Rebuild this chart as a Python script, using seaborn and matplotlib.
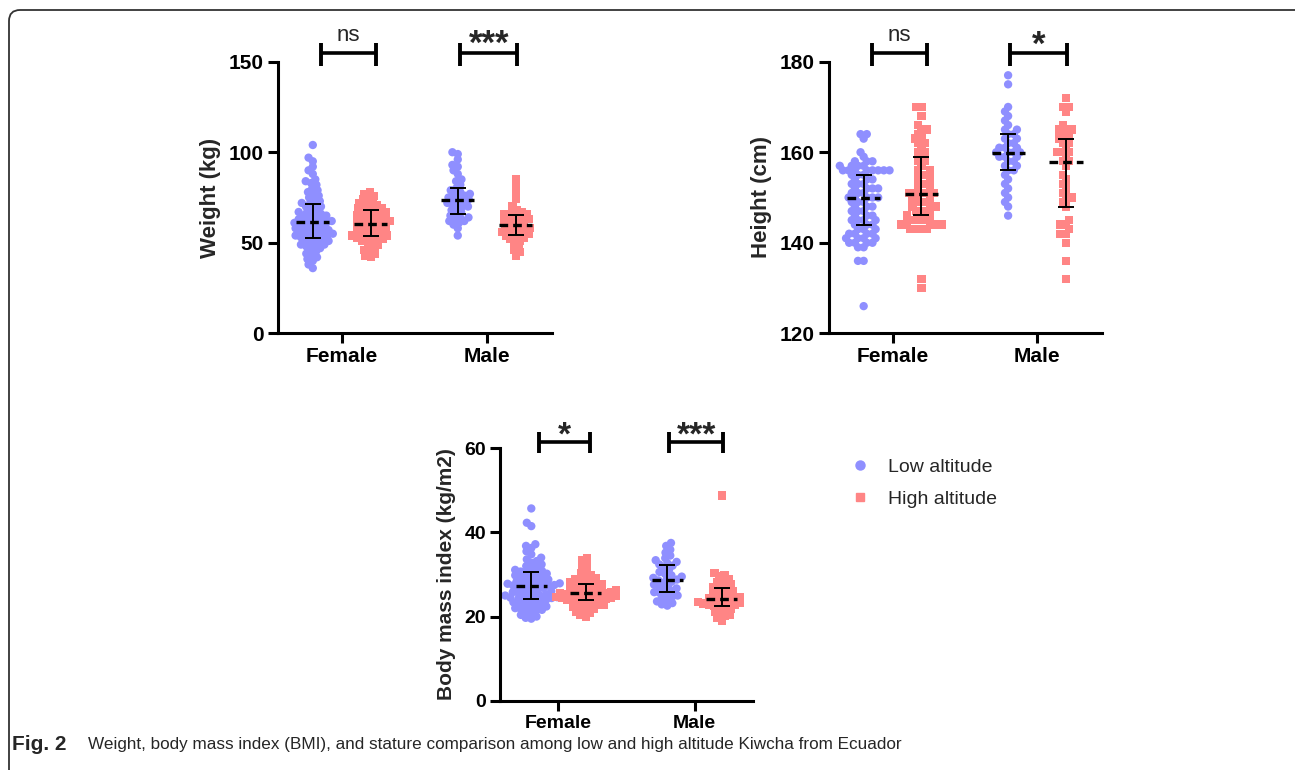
import numpy as np
import pandas as pd
import matplotlib
matplotlib.use("Agg")
import matplotlib.pyplot as plt
import seaborn as sns
from matplotlib.lines import Line2D
from matplotlib.patches import FancyBboxPatch
from matplotlib.transforms import IdentityTransform

# ---------------- data ----------------
sexes = ["Female", "Male"]
altitudes = ["Low altitude", "High altitude"]

weight_female_low = [104, 97, 95, 92, 90, 88, 85, 84, 83, 82, 80, 79, 78, 77, 76, 75, 74, 73, 72, 72,
                     71, 70, 70, 69, 68, 67, 67, 66, 66, 65, 65, 64, 64, 63, 63, 62, 62, 62, 61, 61,
                     61, 60, 60, 59, 59, 58, 58, 57, 57, 57, 56, 56, 55, 55, 55, 54, 54, 54, 53, 53,
                     52, 52, 51, 51, 50, 50, 49, 49, 48, 48, 47, 46, 45, 44, 43, 42, 41, 40, 38, 36]
weight_female_high = [78, 77, 76, 75, 74, 73, 72, 72, 71, 70, 70, 69, 69, 68, 68,
                      67, 67, 66, 66, 65, 65, 64, 64, 63, 63, 62, 62, 61, 61, 61,
                      60, 60, 59, 59, 58, 58, 57, 57, 56, 56, 55, 55, 54, 54, 54,
                      53, 53, 52, 52, 51, 51, 50, 49, 48, 47, 46, 45, 44, 43, 42]
weight_male_low = [100, 99, 96, 93, 92, 90, 88, 85, 84, 82,
                   80, 79, 78, 77, 77, 76, 75, 75, 74, 74,
                   73, 72, 72, 71, 70, 70, 69, 68, 67, 66,
                   65, 64, 64, 63, 62, 62, 61, 60, 58, 54]
weight_male_high = [85, 80, 77, 74, 70, 68, 67, 66, 66, 66,
                    65, 64, 64, 63, 63, 62, 62, 61, 61, 60,
                    59, 59, 58, 58, 57, 57, 56, 55, 55, 55,
                    54, 53, 53, 52, 51, 50, 48, 46, 45, 43]

height_female_low = [164, 164, 163, 160, 159, 158, 158, 158, 157, 157, 157, 157, 156, 156, 156, 156, 156, 156, 156, 156,
                     155, 155, 155, 154, 154, 154, 153, 153, 153, 152, 152, 152, 152, 151, 151, 151, 150, 150, 150, 150,
                     150, 149, 149, 149, 148, 148, 148, 147, 147, 147, 146, 146, 146, 145, 145, 145, 145, 144, 144, 144,
                     143, 143, 143, 142, 142, 142, 142, 141, 141, 141, 141, 140, 140, 140, 140, 139, 139, 136, 136, 126]
height_female_high = [170, 170, 168, 166, 165, 165, 164, 163, 163, 162, 162, 161, 160, 160, 159,
                      158, 158, 157, 156, 156, 155, 155, 154, 154, 153, 153, 152, 152, 151, 151,
                      151, 151, 150, 150, 150, 149, 149, 148, 148, 148, 147, 147, 147, 146, 146,
                      145, 145, 145, 145, 144, 144, 144, 144, 144, 143, 143, 143, 143, 132, 130]
height_male_low = [177, 175, 170, 169, 168, 167, 166, 165, 165, 164,
                   164, 163, 163, 162, 162, 161, 161, 161, 160, 160,
                   160, 160, 159, 159, 159, 158, 158, 157, 157, 156,
                   156, 155, 154, 153, 152, 151, 150, 149, 148, 146]
height_male_high = [172, 170, 170, 169, 166, 165, 165, 165, 164, 164,
                    163, 163, 162, 162, 161, 160, 160, 160, 159, 158,
                    158, 157, 155, 154, 153, 152, 151, 150, 150, 149,
                    148, 145, 144, 144, 143, 142, 142, 140, 136, 132]

bmi_female_low = [45.7, 42.3, 41.5, 37.2, 36.8, 36.3, 35.5, 34.8, 34.0, 33.6, 33.2, 32.8, 32.4, 32.0, 31.7, 31.4, 31.1, 30.9, 30.7, 30.6,
                  30.4, 30.2, 30.0, 29.8, 29.6, 29.4, 29.2, 29.0, 28.8, 28.6, 28.4, 28.3, 28.1, 27.9, 27.8, 27.7, 27.6, 27.5, 27.4, 27.3,
                  27.2, 27.0, 26.8, 26.6, 26.4, 26.2, 26.0, 25.8, 25.6, 25.5, 25.3, 25.2, 25.0, 24.9, 24.8, 24.6, 24.5, 24.4, 24.3, 24.2,
                  24.0, 23.8, 23.6, 23.4, 23.2, 23.0, 22.8, 22.6, 22.4, 22.2, 22.0, 21.8, 21.6, 21.4, 21.2, 20.8, 20.4, 20.0, 19.7, 19.5]
bmi_female_high = [34.0, 33.3, 32.5, 31.8, 31.0, 30.4, 29.9, 29.5, 29.1, 28.8, 28.5, 28.3, 28.1, 27.9, 27.8,
                   27.6, 27.4, 27.2, 27.0, 26.8, 26.6, 26.5, 26.3, 26.2, 26.0, 25.9, 25.8, 25.7, 25.6, 25.5,
                   25.4, 25.3, 25.2, 25.0, 24.9, 24.8, 24.7, 24.6, 24.5, 24.4, 24.3, 24.2, 24.1, 24.0, 23.9,
                   23.7, 23.5, 23.3, 23.1, 22.9, 22.7, 22.5, 22.3, 22.0, 21.8, 21.5, 21.2, 20.8, 20.4, 20.0]
bmi_male_low = [37.5, 36.8, 35.9, 35.2, 34.5, 33.9, 33.4, 33.0, 32.7, 32.4,
                32.1, 31.6, 31.1, 30.6, 30.2, 29.8, 29.5, 29.2, 29.0, 28.8,
                28.6, 28.3, 28.0, 27.6, 27.3, 27.0, 26.7, 26.4, 26.1, 25.8,
                25.6, 25.3, 25.0, 24.7, 24.4, 24.0, 23.6, 23.2, 22.9, 22.6]
bmi_male_high = [48.8, 30.3, 29.9, 29.5, 29.0, 28.6, 28.2, 27.7, 27.3, 26.9,
                 26.6, 26.3, 26.0, 25.8, 25.5, 25.2, 25.0, 24.7, 24.5, 24.3,
                 24.1, 23.9, 23.7, 23.6, 23.4, 23.2, 23.1, 22.9, 22.8, 22.7,
                 22.5, 22.2, 21.9, 21.6, 21.2, 20.9, 20.5, 20.1, 19.6, 19.0]

# median and interquartile range per group: Female-low, Female-high, Male-low, Male-high
weight_median = [61.4, 60.3, 73.4, 59.8]
weight_q1 = [52.6, 53.7, 65.9, 54.2]
weight_q3 = [71.4, 68.0, 80.3, 65.3]
height_median = [149.8, 150.8, 159.9, 157.8]
height_q1 = [143.9, 146.1, 156.0, 148.0]
height_q3 = [154.9, 159.0, 164.0, 163.0]
bmi_median = [27.3, 25.5, 28.8, 24.2]
bmi_q1 = [24.2, 23.9, 25.8, 22.6]
bmi_q3 = [30.5, 27.7, 32.3, 26.7]

weight_sig = ["ns", "***"]
height_sig = ["ns", "*"]
bmi_sig = ["*", "***"]

caption_bold = "Fig. 2"
caption_text = "Weight, body mass index (BMI), and stature comparison among low and high altitude Kiwcha from Ecuador"

# ---------------- style ----------------
sns.set_style("ticks")
plt.rcParams["font.family"] = ["Liberation Sans", "DejaVu Sans"]
BLUE = "#8F8FFF"
RED = "#FF8585"
palette = {altitudes[0]: BLUE, altitudes[1]: RED}
markers = {altitudes[0]: "o", altitudes[1]: "s"}
LAYOUT_SIZE = 3.9   # marker size used to pack the swarm (points overlap, as in the original)
MARKER_SIZE = 6.0   # marker size actually drawn

W, H = 1295, 770
fig = plt.figure(figsize=(W / 100, H / 100), dpi=100)
swarm_collections = []


def make_df(fl, fh, ml, mh):
    rows = []
    for sex, alt, vals in [("Female", altitudes[0], fl), ("Female", altitudes[1], fh),
                           ("Male", altitudes[0], ml), ("Male", altitudes[1], mh)]:
        for v in vals:
            rows.append((sex, alt, v))
    return pd.DataFrame(rows, columns=["sex", "altitude", "value"])


def px_axes(left, right, top, bottom):
    return fig.add_axes([left / W, 1 - bottom / H, (right - left) / W, (bottom - top) / H])


def draw_panel(ax, df, med, q1, q3, ylim, yticks, ylabel, sig, brk, fs_tick, fs_label, xlim):
    for alt in altitudes:
        sub = df[df["altitude"] == alt]
        before = len(ax.collections)
        sns.swarmplot(data=sub, x="sex", y="value", hue="altitude", hue_order=altitudes,
                      order=sexes, dodge=True, palette=palette, marker=markers[alt],
                      size=LAYOUT_SIZE, linewidth=0, ax=ax, legend=False, zorder=2)
        swarm_collections.extend(ax.collections[before:])
    xs = np.array([-0.2, 0.2, 0.8, 1.2])
    med = np.array(med); q1 = np.array(q1); q3 = np.array(q3)
    ax.errorbar(xs, med, yerr=[med - q1, q3 - med], fmt="none", ecolor="black",
                elinewidth=1.4, capsize=6, capthick=1.4, zorder=3)
    ax.hlines(med, xs - 0.115, xs + 0.115, colors="black", linewidth=2.4,
              linestyles=(0, (2.6, 1.5)), zorder=4)
    ax.set_ylim(*ylim)
    ax.set_yticks(yticks)
    ax.set_xlim(*xlim)
    ax.set_xlabel("")
    ax.set_ylabel(ylabel, fontsize=fs_label, fontweight="bold", labelpad=6)
    for s in ["top", "right"]:
        ax.spines[s].set_visible(False)
    for s in ["left", "bottom"]:
        ax.spines[s].set_linewidth(2.2)
        ax.spines[s].set_color("black")
    ax.tick_params(axis="both", width=2.2, length=7, labelsize=fs_tick, colors="black", pad=3)
    for lab in ax.get_xticklabels() + ax.get_yticklabels():
        lab.set_fontweight("bold")
    # significance brackets
    yb, ylo, yhi, ytxt_ns, ytxt_star = brk
    for i, (x0, x1, xt) in enumerate([(-0.145, 0.235, 0.045), (0.815, 1.21, 1.015)]):
        ax.plot([x0, x1], [yb, yb], color="black", lw=2.6, clip_on=False, solid_capstyle="butt")
        ax.plot([x0, x0], [ylo, yhi], color="black", lw=2.8, clip_on=False, solid_capstyle="butt")
        ax.plot([x1, x1], [ylo, yhi], color="black", lw=2.8, clip_on=False, solid_capstyle="butt")
        s = sig[i]
        if s == "ns":
            ax.text(xt, ytxt_ns, s, ha="center", va="baseline", fontsize=fs_label, clip_on=False)
        else:
            ax.text(xt, ytxt_star, s, ha="center", va="baseline", fontsize=fs_label + 9,
                    fontweight="bold", clip_on=False)


# Weight panel
ax1 = px_axes(278, 552, 61.7, 333.3)
draw_panel(ax1, make_df(weight_female_low, weight_female_high, weight_male_low, weight_male_high),
           weight_median, weight_q1, weight_q3, (0, 150), [0, 50, 100, 150], "Weight (kg)",
           weight_sig, (154.8, 147.6, 160.3, 161.4, 154.3), 15, 16, (-0.44, 1.45))

# Height panel
ax2 = px_axes(829, 1102, 61.7, 333.3)
draw_panel(ax2, make_df(height_female_low, height_female_high, height_male_low, height_male_high),
           height_median, height_q1, height_q3, (120, 180), [120, 140, 160, 180], "Height (cm)",
           height_sig, (181.9, 179.05, 184.1, 184.6, 181.5), 15, 16, (-0.44, 1.45))

# BMI panel
ax3 = px_axes(500, 753, 448.3, 700.7)
draw_panel(ax3, make_df(bmi_female_low, bmi_female_high, bmi_male_low, bmi_male_high),
           bmi_median, bmi_q1, bmi_q3, (0, 60), [0, 20, 40, 60], "Body mass index (kg/m2)",
           bmi_sig, (61.57, 58.95, 63.95, 64.6, 60.9), 14, 15, (-0.43, 1.43))

# Legend
handles = [Line2D([], [], marker="o", ls="", color=BLUE, markersize=6.5),
           Line2D([], [], marker="s", ls="", color=RED, markersize=6)]
fig.legend(handles, altitudes, loc="center left", bbox_to_anchor=(850 / W, 1 - 483 / H),
           frameon=False, fontsize=14, handletextpad=0.95, labelspacing=0.72, handlelength=1.0,
           borderaxespad=0, borderpad=0)

# Caption and frame
fig.text(12 / W, 1 - 745 / H, caption_bold, fontsize=15, fontweight="bold", va="center", ha="left")
fig.text(88 / W, 1 - 745 / H, caption_text, fontsize=12.3, va="center", ha="left")
frame = FancyBboxPatch((9, -60), 1400, H - 10 + 60, boxstyle="round,pad=0,rounding_size=11",
                       transform=IdentityTransform(), fill=False, edgecolor="#333333", lw=1.3)
fig.add_artist(frame)

# pack the swarms, then draw the markers at full size (overlapping like the original)
fig.canvas.draw()
for coll in swarm_collections:
    if "draw" in coll.__dict__:
        del coll.__dict__["draw"]
    coll.set_sizes([MARKER_SIZE ** 2])

fig.savefig("out.png", dpi=100)
